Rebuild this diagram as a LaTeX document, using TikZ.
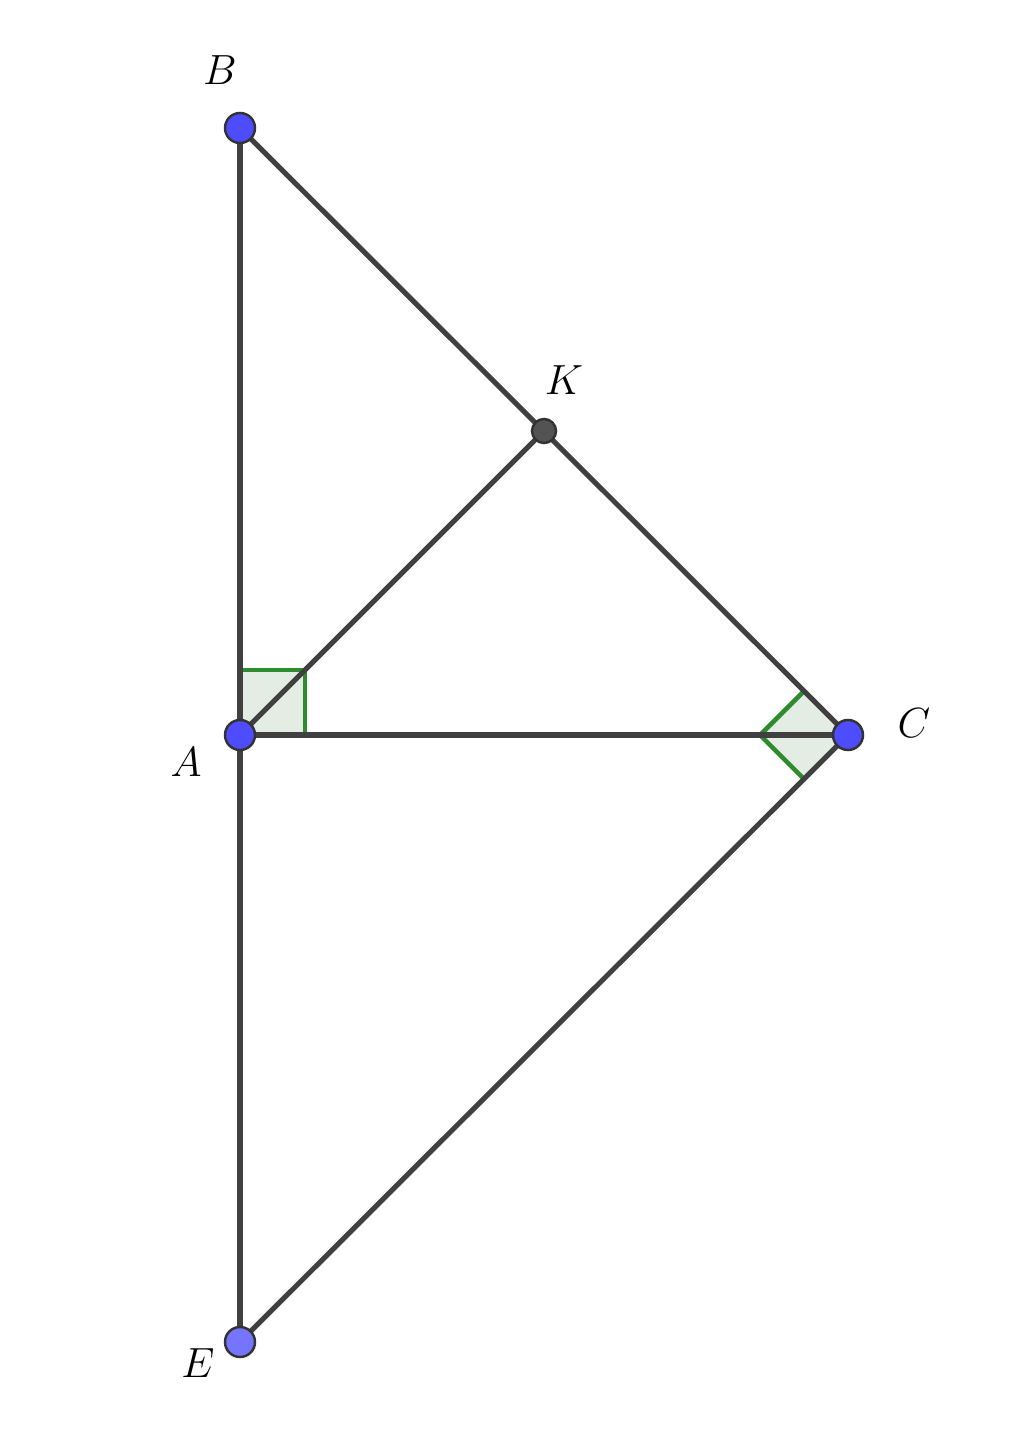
\documentclass[tikz,border=0pt]{standalone}
\usepackage{tikz}
\definecolor{seg}{HTML}{404040}
\definecolor{ptblue}{HTML}{4D4DFF}
\definecolor{ptlight}{HTML}{7575FF}
\definecolor{ragreen}{HTML}{2E8B2E}
\definecolor{rafill}{HTML}{E4EDE4}
\tikzset{
  segline/.style={draw=seg, line width=1.45pt},
  ramark/.style={draw=ragreen, fill=rafill, line width=1.3pt},
  ptdot/.style={circle, draw=black!80, line width=0.7pt, minimum size=0.3cm, inner sep=0pt},
  lbl/.style={font=\fontsize{12.5}{14}\selectfont, inner sep=0pt}
}
\begin{document}
\begin{tikzpicture}[x=0.01cm, y=-0.01cm]
\useasboundingbox (0,0) rectangle (1024,1455);
\coordinate (B) at (240,128);
\coordinate (A) at (240,735);
\coordinate (C) at (848,735);
\coordinate (E) at (240,1342);
\coordinate (K) at (544,431);
% right angle marks
\path[ramark] (A) -- (305,735) -- (305,670) -- (240,670) -- cycle;
\path[ramark] (C) -- (804,691) -- (760,735) -- (804,779) -- cycle;
% segments
\draw[segline] (B) -- (A);
\draw[segline] (A) -- (E);
\draw[segline] (B) -- (C);
\draw[segline] (A) -- (C);
\draw[segline] (C) -- (E);
\draw[segline] (A) -- (K);
% points
\node[ptdot, fill=ptblue] (nB) at (B) {};
\node[ptdot, fill=ptblue] (nA) at (A) {};
\node[ptdot, fill=ptblue] (nC) at (C) {};
\node[ptdot, fill=ptlight] (nE) at (E) {};
\node[ptdot, fill=seg!90, minimum size=0.24cm] (nK) at (K) {};
% labels
\node[lbl] (lB) at (220,70) {$B$};
\node[lbl] (lK) at (564,380) {$K$};
\node[lbl] (lC) at (914,723) {$C$};
\node[lbl] (lA) at (186,762) {$A$};
\node[lbl] (lE) at (198,1363) {$E$};
\end{tikzpicture}
\end{document}
